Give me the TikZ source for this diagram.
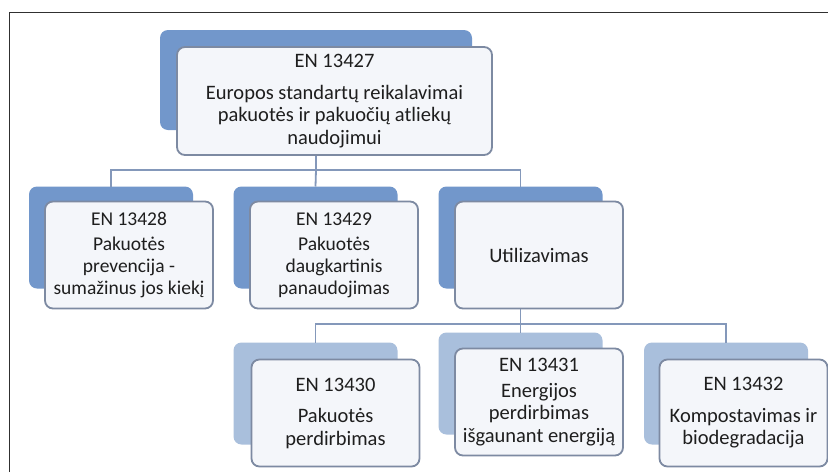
\documentclass[tikz,border=0pt]{standalone}
\usepackage{fontspec}
\setmainfont{Carlito}
\begin{document}
\begin{tikzpicture}[x=1pt,y=-1pt,
  every node/.style={inner sep=0pt,outer sep=0pt},
  backbox/.style={draw=none,fill=#1,rounded corners=8pt,
    minimum width=164pt,minimum height=102pt},
  backbox/.default=backblue,
  frontbox/.style={draw=edgegray,line width=1.8pt,fill=frontfill,rounded corners=8pt,
    minimum width=168pt,minimum height=107pt,align=center,text=textgray,
    font=\fontsize{20.5}{22.5}\selectfont},
  smallcard/.style={font=\fontsize{19.5}{22}\selectfont},
  link/.style={draw=linkblue,line width=1.8pt}]
\definecolor{backblue}{HTML}{7297CB}
\definecolor{backpale}{HTML}{A9BFDC}
\definecolor{edgegray}{HTML}{7D8AA2}
\definecolor{frontfill}{HTML}{F4F6FA}
\definecolor{linkblue}{HTML}{8498BA}
\definecolor{textgray}{HTML}{1E1E1E}
\definecolor{framegray}{HTML}{303030}
\useasboundingbox (0,0) rectangle (828,472);
\fill[white] (0,0) rectangle (828,472);

% page frame (only its left and top edges fall inside)
\draw[framegray,line width=1.8pt] (9.5,472) -- (9.5,12.5) -- (828,12.5);

% back plates
\node[backbox,minimum width=312pt,minimum height=100pt] (topb) at (316,80) {};
\node[backbox] (ab) at (111,237.5) {};
\node[backbox] (bb) at (315.5,237.5) {};
\node[backbox] (cb) at (520.5,237.5) {};
\node[backbox=backpale] (db) at (315.5,393.5) {};
\node[backbox=backpale] (eb) at (520.5,383.5) {};
\node[backbox=backpale] (fb) at (726,393.5) {};

% bus points
\coordinate (busone) at (316,170);
\coordinate (bustwo) at (521,324);

% connectors
\draw[link] (topb.center) -- (busone);
\draw[link] (ab.north) |- (busone) -| (cb.north);
\draw[link] (busone) -- (bb.north);
\draw[link] (cb.center) -- (eb.north);
\draw[link] (db.north) |- (bustwo) -| (fb.north);

% front cards
\node[frontbox,minimum width=315pt,minimum height=108pt] (topf) at (334.5,101)
  {EN 13427\\[9pt]Europos standartų reikalavimai\\pakuotės ir pakuočių atliekų\\naudojimui};
\node[frontbox,smallcard] (af) at (129,255)
  {EN 13428\\[3pt]Pakuotės\\prevencija -\\sumažinus jos kiekį};
\node[frontbox,smallcard] (bf) at (334,255)
  {EN 13429\\[3pt]Pakuotės\\daugkartinis\\panaudojimas};
\node[frontbox] (cf) at (539,255) {Utilizavimas};
\node[frontbox] (df) at (335.5,413)
  {EN 13430\\[9pt]Pakuotės\\perdirbimas};
\node[frontbox] (ef) at (539,402)
  {EN 13431\\[3pt]Energijos\\perdirbimas\\išgaunant energiją};
\node[frontbox] (ff) at (743.5,413)
  {EN 13432\\[9pt]Kompostavimas ir\\biodegradacija};
\end{tikzpicture}
\end{document}
